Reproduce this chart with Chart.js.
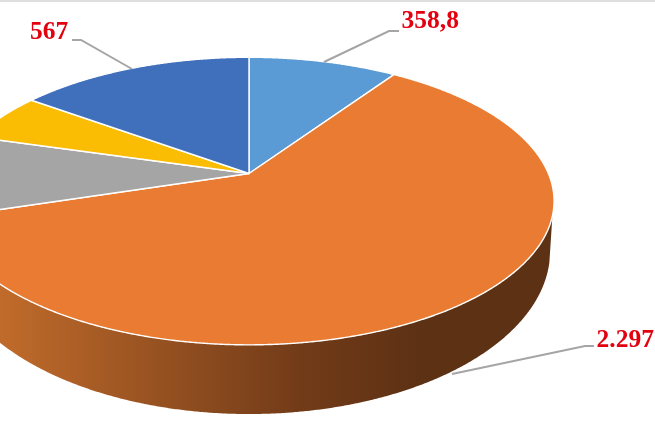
<!DOCTYPE html>
<html>
<head>
<meta charset="utf-8">
<style>html,body{margin:0;padding:0;background:#fff}canvas{display:block}</style>
<script src="https://cdn.jsdelivr.net/npm/chart.js@4"></script>
</head>
<body>
<canvas id="c" width="655" height="421"></canvas>
<script>
const categories = ['A', 'B', 'C', 'D', 'E'];
const seriesValues = [358.8, 2297, 352, 210, 567];
const sliceColors = ['#5B9BD5', '#E97C32', '#A5A5A5', '#FBBC04', '#4070BC'];
const valueLabels = ['358,8', '2.297', '567'];

// Perspective of the tilted disc: top face and bottom face
const topFace = {cx: 249, y0: 173.5, a: 299.4, c: 138.5, b: 0.1917};
const bottomFace = {cx: 249, y0: 219.8, a: 295.5, c: 157, b: 0.1917};
function project(f, theta) {
  const u = Math.sin(theta), v = Math.cos(theta), w = 1 + f.b * v;
  return [f.cx + f.a * u / w, f.y0 - f.c * v / w];
}
function range(t0, t1) {
  const pts = [], n = Math.max(2, Math.ceil((t1 - t0) / 0.005));
  for (let i = 0; i <= n; i++) pts.push(t0 + (t1 - t0) * i / n);
  return pts;
}

const annotations = [
  {text: valueLabels[0], x: 401.5, y: 28, line: [[399, 31], [389, 31], [324, 62]]},
  {text: valueLabels[1], x: 596.5, y: 347, line: [[594, 346], [585, 346], [452, 374]]},
  {text: valueLabels[2], x: 30, y: 39, line: [[72, 40], [81, 40], [132, 69]]}
];

const pie3d = {
  id: 'pie3d',
  beforeDraw(chart) {
    const g = chart.ctx;
    g.save();
    g.fillStyle = '#DEDEDE';
    g.fillRect(0, 0, 655, 2);
    g.restore();
  },
  beforeDatasetDraw(chart, args) {
    const g = chart.ctx, arcs = args.meta.data;
    const angles = arcs.map(a => {
      const p = a.getProps(['startAngle', 'endAngle'], true);
      return [p.startAngle + Math.PI / 2, p.endAngle + Math.PI / 2];
    });
    g.save();
    // side wall of the largest slice (front of the disc)
    const o = angles[1];
    const th = range(o[0], o[1]);
    const lower = th.map(t => project(bottomFace, t)).filter(p => p[1] >= 262);
    const upper = th.map(t => project(topFace, t)).filter(p => p[1] >= 216);
    const grad = g.createLinearGradient(0, 0, 655, 0);
    grad.addColorStop(0, '#C06B2B');
    grad.addColorStop(300 / 655, '#723B18');
    grad.addColorStop(420 / 655, '#5D3114');
    grad.addColorStop(1, '#5D3114');
    g.beginPath();
    lower.forEach((p, i) => i ? g.lineTo(p[0], p[1]) : g.moveTo(p[0], p[1]));
    upper.reverse().forEach(p => g.lineTo(p[0], p[1]));
    g.closePath();
    g.fillStyle = grad;
    g.fill();
    // top face
    angles.forEach((r, i) => {
      g.beginPath();
      g.moveTo(topFace.cx, topFace.y0);
      range(r[0], r[1]).forEach(t => {
        const p = project(topFace, t);
        g.lineTo(p[0], p[1]);
      });
      g.closePath();
      g.fillStyle = sliceColors[i];
      g.fill();
      g.strokeStyle = '#FFFFFF';
      g.lineWidth = 1.4;
      g.lineJoin = 'round';
      g.stroke();
    });
    g.restore();
    return false;
  },
  afterDatasetsDraw(chart) {
    const g = chart.ctx;
    g.save();
    annotations.forEach(a => {
      g.beginPath();
      a.line.forEach((p, i) => i ? g.lineTo(p[0], p[1]) : g.moveTo(p[0], p[1]));
      g.strokeStyle = '#A5A5A5';
      g.lineWidth = 2;
      g.stroke();
      g.font = 'bold 25.5px "Liberation Serif"';
      g.fillStyle = '#E3000F';
      g.textAlign = 'left';
      g.textBaseline = 'alphabetic';
      g.fillText(a.text, a.x, a.y);
    });
    g.restore();
  }
};

new Chart(document.getElementById('c'), {
  type: 'pie',
  data: {
    labels: categories,
    datasets: [{data: seriesValues, backgroundColor: sliceColors, borderColor: '#fff', borderWidth: 1}]
  },
  options: {
    responsive: false,
    animation: false,
    plugins: {legend: {display: false}, tooltip: {enabled: false}}
  },
  plugins: [pie3d]
});
</script>
</body>
</html>
